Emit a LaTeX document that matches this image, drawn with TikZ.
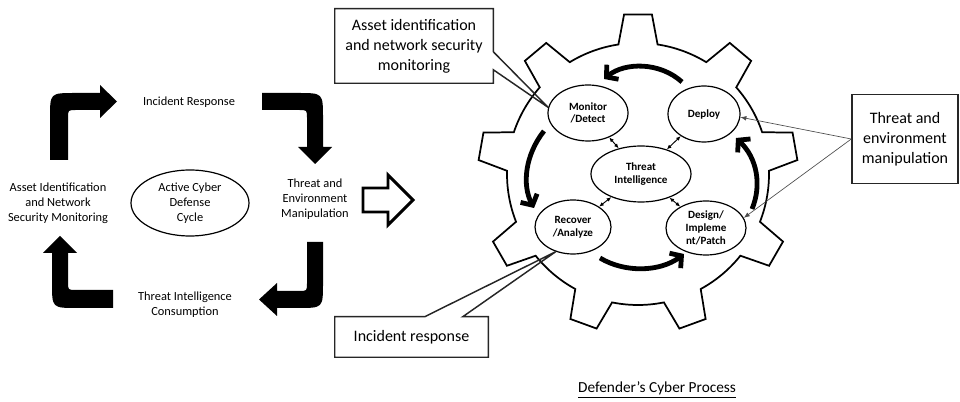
\documentclass[tikz,border=0pt]{standalone}
\usepackage{fontspec}
\setmainfont{Carlito}
\usetikzlibrary{shapes.geometric,arrows.meta}

\tikzset{
  lbl/.style={font=\fontsize{9.3}{11.25}\selectfont, align=center, inner sep=0pt},
  cyc/.style={draw, ellipse, line width=0.9pt, minimum width=88.5pt, minimum height=49.5pt,
              inner sep=0pt, align=center, font=\fontsize{9.3}{11.25}\selectfont},
  stage/.style={draw, ellipse, line width=0.9pt, inner sep=0pt, align=center,
                font=\bfseries\fontsize{8.3}{9.5}\selectfont},
  calltext/.style={font=\fontsize{12}{15}\selectfont, align=center, inner sep=0pt},
  outline/.style={draw=black!85, line width=1.1pt, line join=miter},
  blockarrow/.style={fill=black},
  turn/.style={line width=3.6pt, -{Straight Barb[length=6pt,width=14pt]}},
  link/.style={line width=0.7pt, {Latex[length=3.5pt,width=3pt]}-{Latex[length=3.5pt,width=3pt]}},
  pointer/.style={draw=black!70, line width=0.5pt, -{Latex[length=4.5pt,width=3.5pt]}},
  gearline/.style={line width=1.3pt, line join=miter},
}

\begin{document}
\begin{tikzpicture}[x=0.75pt,y=-0.75pt]
\useasboundingbox (0,0) rectangle (960,402);

% ---------------- Active Cyber Defense Cycle ----------------
\node[cyc] (acd) at (190,203) {Active Cyber\\Defense\\Cycle};

\node[lbl] (ir)  at (189,102)   {Incident Response};
\node[lbl] (tem) at (315,199)   {Threat and\\Environment\\Manipulation};
\node[lbl] (ai)  at (58,203.5)  {Asset Identification\\and Network\\Security Monitoring};
\node[lbl] (tic) at (185,304.5) {Threat Intelligence\\Consumption};

% bent block arrows running clockwise round the cycle
\fill[blockarrow] (50,160) -- (50,118) .. controls (50,93) .. (75,93) -- (100,93) -- (100,85)
  -- (117,101.5) -- (100,118) -- (100,110) -- (76,110) .. controls (68,110) .. (68,118)
  -- (68,160) -- cycle;
\fill[blockarrow] (262,93) -- (298,93) .. controls (323,93) .. (323,118) -- (323,147) -- (332,147)
  -- (315,164) -- (298,147) -- (307,147) -- (307,118) .. controls (307,110) .. (299,110)
  -- (262,110) -- cycle;
\fill[blockarrow] (307,242) -- (323,242) -- (323,283) .. controls (323,308) .. (298,308) -- (277,308)
  -- (277,316) -- (259,299.5) -- (277,283) -- (277,291) -- (299,291) .. controls (307,291) .. (307,283)
  -- cycle;
\fill[blockarrow] (113,290) -- (113,308) -- (77,308) .. controls (52,308) .. (52,283) -- (52,253)
  -- (43,253) -- (60,236) -- (77,253) -- (68,253) -- (68,282) .. controls (68,290) .. (76,290)
  -- cycle;

% hollow arrow leading to the process gear
\draw[line width=2.2pt, line join=miter] (363,188) -- (388,188) -- (388,175) -- (413,200)
  -- (388,225) -- (388,212) -- (363,212) -- cycle;

% ---------------- Defender's process gear ----------------
\begin{scope}[shift={(638,174)}]
  \draw[gearline] (-98.6:131)
    \foreach \k in {0,...,8}{
      -- ({-95+40*\k}:160) -- ({-85+40*\k}:160) -- ({-81.4+40*\k}:131)
      arc[start angle={-81.4+40*\k}, end angle={-58.6+40*\k}, radius=131]
    } -- cycle;
\end{scope}

\node[stage, minimum width=60pt, minimum height=42pt]   (mon) at (588,113) {Monitor\\/Detect};
\node[stage, minimum width=54pt, minimum height=42pt]   (dep) at (704,114) {Deploy};
\node[stage, minimum width=75pt, minimum height=42pt]   (ti)  at (641,174) {Threat\\Intelligence};
\node[stage, minimum width=57pt, minimum height=40.5pt] (rec) at (573,227) {Recover\\/Analyze};
\node[stage, minimum width=60pt, minimum height=40.5pt] (des) at (706,228) {Design/\\Impleme\\nt/Patch};

\draw[link] (mon) -- (ti);
\draw[link] (dep) -- (ti);
\draw[link] (rec) -- (ti);
\draw[link] (des) -- (ti);

% curved arrows turning the process anticlockwise
\draw[turn] (682,82)  .. controls (660,62)  and (625,62)  .. (604,79);
\draw[turn] (544,131) .. controls (525,155) and (522,185) .. (534,208);
\draw[turn] (600,258) .. controls (625,273) and (660,272) .. (684,254);
\draw[turn] (752,209) .. controls (762,185) and (757,158) .. (736,138);

% ---------------- callouts ----------------
\node[calltext, minimum width=118.5pt, minimum height=55.5pt] (asset) at (414,46)
  {Asset identification\\and network security\\monitoring};
\draw[outline] (asset.north west) -- (asset.north east) -- ([yshift=-32.25pt]asset.north east)
  -- (mon.172) -- ([yshift=-45.75pt]asset.north east) -- (asset.south east)
  -- (asset.south west) -- cycle;

\node[calltext, minimum width=114.75pt, minimum height=30pt] (inc) at (411.5,337) {Incident response};
\draw[outline] (inc.north west) -- ([xshift=67.5pt]inc.north west) -- (rec.235)
  -- ([xshift=96pt]inc.north west) -- (inc.north east) -- (inc.south east)
  -- (inc.south west) -- cycle;

\node[calltext, outline, minimum width=79.5pt, minimum height=66.75pt] (tem2) at (905,139)
  {Threat and\\environment\\manipulation};
\draw[pointer] (tem2.west) -- (dep.-5);
\draw[pointer] (tem2.west) -- (des.15);

% ---------------- caption ----------------
\node[font=\fontsize{11.5}{14}\selectfont, inner sep=0pt] (cap) at (657,390)
  {\underline{Defender’s Cyber Process}};
\end{tikzpicture}
\end{document}
